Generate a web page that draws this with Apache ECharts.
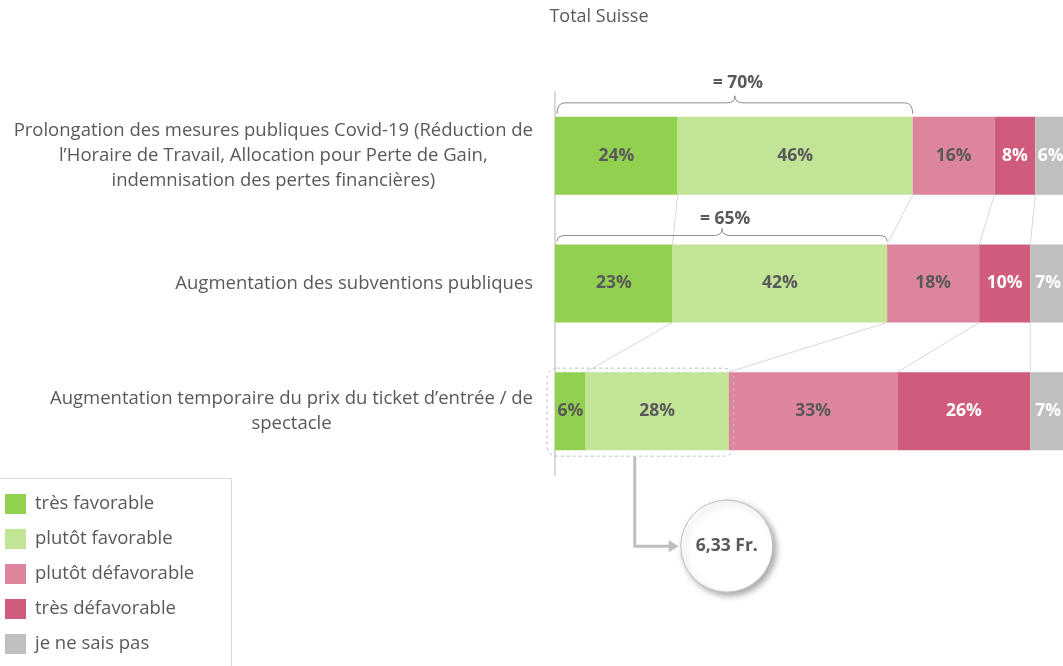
<!DOCTYPE html>
<html>
<head>
<meta charset="utf-8">
<script src="https://cdn.jsdelivr.net/npm/echarts@6/dist/echarts.min.js"></script>
<style>
  html, body { margin: 0; padding: 0; background: #ffffff; }
  #chart { width: 1063px; height: 666px; }
</style>
</head>
<body>
<div id="chart"></div>
<script>
// Survey answers per measure (percent)
const categories = [
  'Prolongation des mesures publiques Covid-19 (Réduction de\nl’Horaire de Travail, Allocation pour Perte de Gain,\nindemnisation des pertes financières)',
  'Augmentation des subventions publiques',
  'Augmentation temporaire du prix du ticket d’entrée / de\nspectacle'
];
const seriesNames = ['très favorable', 'plutôt favorable', 'plutôt défavorable', 'très défavorable', 'je ne sais pas'];
const tresFavorable = [24, 23, 6];
const plutotFavorable = [46, 42, 28];
const plutotDefavorable = [16, 18, 33];
const tresDefavorable = [8, 10, 26];
const neSaisPas = [6, 7, 7];
const chartTitle = 'Total Suisse';
const prixMoyen = '6,33 Fr.';

const seriesValues = [tresFavorable, plutotFavorable, plutotDefavorable, tresDefavorable, neSaisPas];
const colors = ['#92d050', '#c1e497', '#dd859d', '#cf5c7c', '#bfbfbf'];
const labelColors = ['#595959', '#595959', '#595959', '#ffffff', '#ffffff'];
const FONT = '"Open Sans", Lato, sans-serif';
const TEXT = '#595959';
const BAR_H = 78;
const HALF = BAR_H / 2;

// cumulative boundaries of each bar (after the 1st..4th segment)
function boundaries(i) {
  const out = [];
  let s = 0;
  for (let k = 0; k < 4; k++) { s += seriesValues[k][i]; out.push(s); }
  return out;
}

// brace placement relative to the top of its bar
const braceOffsets = [
  { line: -14, tip: -21, label: -34 },
  { line: -9, tip: -16, label: -25 }
];

const chart = echarts.init(document.getElementById('chart'), null, { renderer: 'canvas' });

const barSeries = seriesNames.map((name, k) => ({
  name: name,
  type: 'bar',
  stack: 'total',
  barWidth: BAR_H,
  z: 2,
  itemStyle: { color: colors[k] },
  label: {
    show: true,
    position: 'inside',
    formatter: '{c}%',
    fontFamily: FONT,
    fontWeight: 'bold',
    fontSize: 17.5,
    color: labelColors[k]
  },
  emphasis: { disabled: true },
  data: seriesValues[k]
}));

// thin connectors between matching segment edges of consecutive bars
const connectorSeries = {
  type: 'custom',
  coordinateSystem: 'cartesian2d',
  silent: true,
  z: 1,
  data: [[0, 0], [0, 1]],
  encode: { x: 0, y: 1 },
  renderItem: function (params, api) {
    const i = api.value(1);
    const a = boundaries(i), b = boundaries(i + 1);
    const children = [];
    for (let k = 0; k < 4; k++) {
      const p = api.coord([a[k], i]);
      const q = api.coord([b[k], i + 1]);
      children.push({
        type: 'line',
        shape: { x1: p[0], y1: p[1] + HALF, x2: q[0], y2: q[1] - HALF },
        style: { stroke: '#d9d9d9', lineWidth: 1 }
      });
    }
    return { type: 'group', children: children };
  }
};

// braces summing the favourable answers
const braceSeries = {
  type: 'custom',
  coordinateSystem: 'cartesian2d',
  silent: true,
  z: 4,
  data: [0, 1].map(i => [tresFavorable[i] + plutotFavorable[i], i]),
  encode: { x: 0, y: 1 },
  renderItem: function (params, api) {
    const total = api.value(0), i = api.value(1);
    const off = braceOffsets[i];
    const p0 = api.coord([0, i]);
    const p1 = api.coord([total, i]);
    const top = p0[1] - HALF;
    const ly = top + off.line, ty = top + off.tip;
    const x0 = p0[0] + 2, x1 = p1[0], xm = (x0 + x1) / 2, r = 8;
    const d = 'M' + x0 + ',' + (top - 3) +
      ' Q' + x0 + ',' + ly + ' ' + (x0 + r) + ',' + ly +
      ' L' + (xm - r) + ',' + ly +
      ' Q' + xm + ',' + ly + ' ' + xm + ',' + ty +
      ' Q' + xm + ',' + ly + ' ' + (xm + r) + ',' + ly +
      ' L' + (x1 - r) + ',' + ly +
      ' Q' + x1 + ',' + ly + ' ' + x1 + ',' + (top - 3);
    return {
      type: 'group',
      children: [
        { type: 'path', shape: { pathData: d }, style: { fill: 'none', stroke: '#8c8c8c', lineWidth: 1 } },
        {
          type: 'text',
          style: {
            x: xm + 3, y: top + off.label, text: '= ' + total + '%',
            fill: TEXT, font: 'bold 17.5px ' + FONT,
            align: 'center', verticalAlign: 'middle',
            textAlign: 'center', textVerticalAlign: 'middle'
          }
        }
      ]
    };
  }
};

// dashed frame round the favourable share of the ticket price question, with the price callout
const calloutSeries = {
  type: 'custom',
  coordinateSystem: 'cartesian2d',
  silent: true,
  z: 5,
  data: [[tresFavorable[2] + plutotFavorable[2], 2]],
  encode: { x: 0, y: 1 },
  renderItem: function (params, api) {
    const total = api.value(0), i = api.value(1);
    const p0 = api.coord([0, i]);
    const p1 = api.coord([total, i]);
    const top = p0[1] - HALF, bottom = p0[1] + HALF;
    const rx0 = p0[0] - 8, rx1 = p1[0] + 5;
    const ry0 = top - 4, ry1 = bottom + 6;
    const lx = rx0 + (rx1 - rx0) * 0.47;
    const ly = bottom + 96;
    const cx = lx + 92, cr = 46;
    return {
      type: 'group',
      children: [
        {
          type: 'rect',
          shape: { x: rx0, y: ry0, width: rx1 - rx0, height: ry1 - ry0, r: 10 },
          style: { fill: 'none', stroke: '#bfbfbf', lineWidth: 1, lineDash: [3, 3] }
        },
        {
          type: 'polyline',
          shape: { points: [[lx, ry1], [lx, ly], [cx - cr - 10, ly]] },
          style: { fill: 'none', stroke: '#bfbfbf', lineWidth: 3 }
        },
        {
          type: 'polygon',
          shape: { points: [[cx - cr - 12, ly - 6], [cx - cr - 2, ly], [cx - cr - 12, ly + 6]] },
          style: { fill: '#bfbfbf' }
        },
        {
          type: 'circle',
          shape: { cx: cx, cy: ly, r: cr },
          style: {
            fill: '#ffffff', stroke: '#bfbfbf', lineWidth: 1,
            shadowBlur: 6, shadowOffsetX: 3, shadowOffsetY: 3, shadowColor: 'rgba(0,0,0,0.35)'
          }
        },
        {
          type: 'text',
          style: {
            x: cx, y: ly, text: prixMoyen,
            fill: TEXT, font: 'bold 17.5px ' + FONT,
            align: 'center', verticalAlign: 'middle',
            textAlign: 'center', textVerticalAlign: 'middle'
          }
        }
      ]
    };
  }
};

const option = {
  animation: false,
  backgroundColor: '#ffffff',
  grid: { left: 555, top: 92, width: 511, height: 383, outerBoundsMode: 'none' },
  xAxis: { type: 'value', min: 0, max: 100, show: false },
  yAxis: {
    type: 'category',
    data: categories,
    inverse: true,
    axisLine: { show: true, lineStyle: { color: '#d9d9d9', width: 2 } },
    axisTick: { show: false },
    splitLine: { show: false },
    axisLabel: {
      margin: 22,
      align: 'right',
      formatter: v => v.split('\n').map(l => '{c|' + l + '}').join('\n'),
      rich: {
        c: { align: 'center', fontFamily: FONT, fontSize: 18.5, lineHeight: 25, color: TEXT }
      }
    }
  },
  legend: {
    orient: 'vertical',
    left: 5,
    top: 494,
    padding: 0,
    itemWidth: 21,
    itemHeight: 20,
    itemGap: 15,
    icon: 'rect',
    selectedMode: false,
    data: seriesNames,
    textStyle: { fontFamily: FONT, fontSize: 18.5, lineHeight: 20, color: TEXT, padding: [0, 0, 0, 4] }
  },
  graphic: [
    {
      type: 'text',
      x: 599, y: 17,
      style: {
        text: chartTitle, fill: TEXT, font: '18px ' + FONT,
        align: 'center', verticalAlign: 'middle',
        textAlign: 'center', textVerticalAlign: 'middle'
      }
    },
    {
      type: 'rect',
      shape: { x: -1, y: 478.5, width: 232.5, height: 200 },
      style: { fill: 'none', stroke: '#d9d9d9', lineWidth: 1 }
    }
  ],
  series: barSeries.concat([connectorSeries, braceSeries, calloutSeries])
};

chart.setOption(option);
</script>
</body>
</html>
